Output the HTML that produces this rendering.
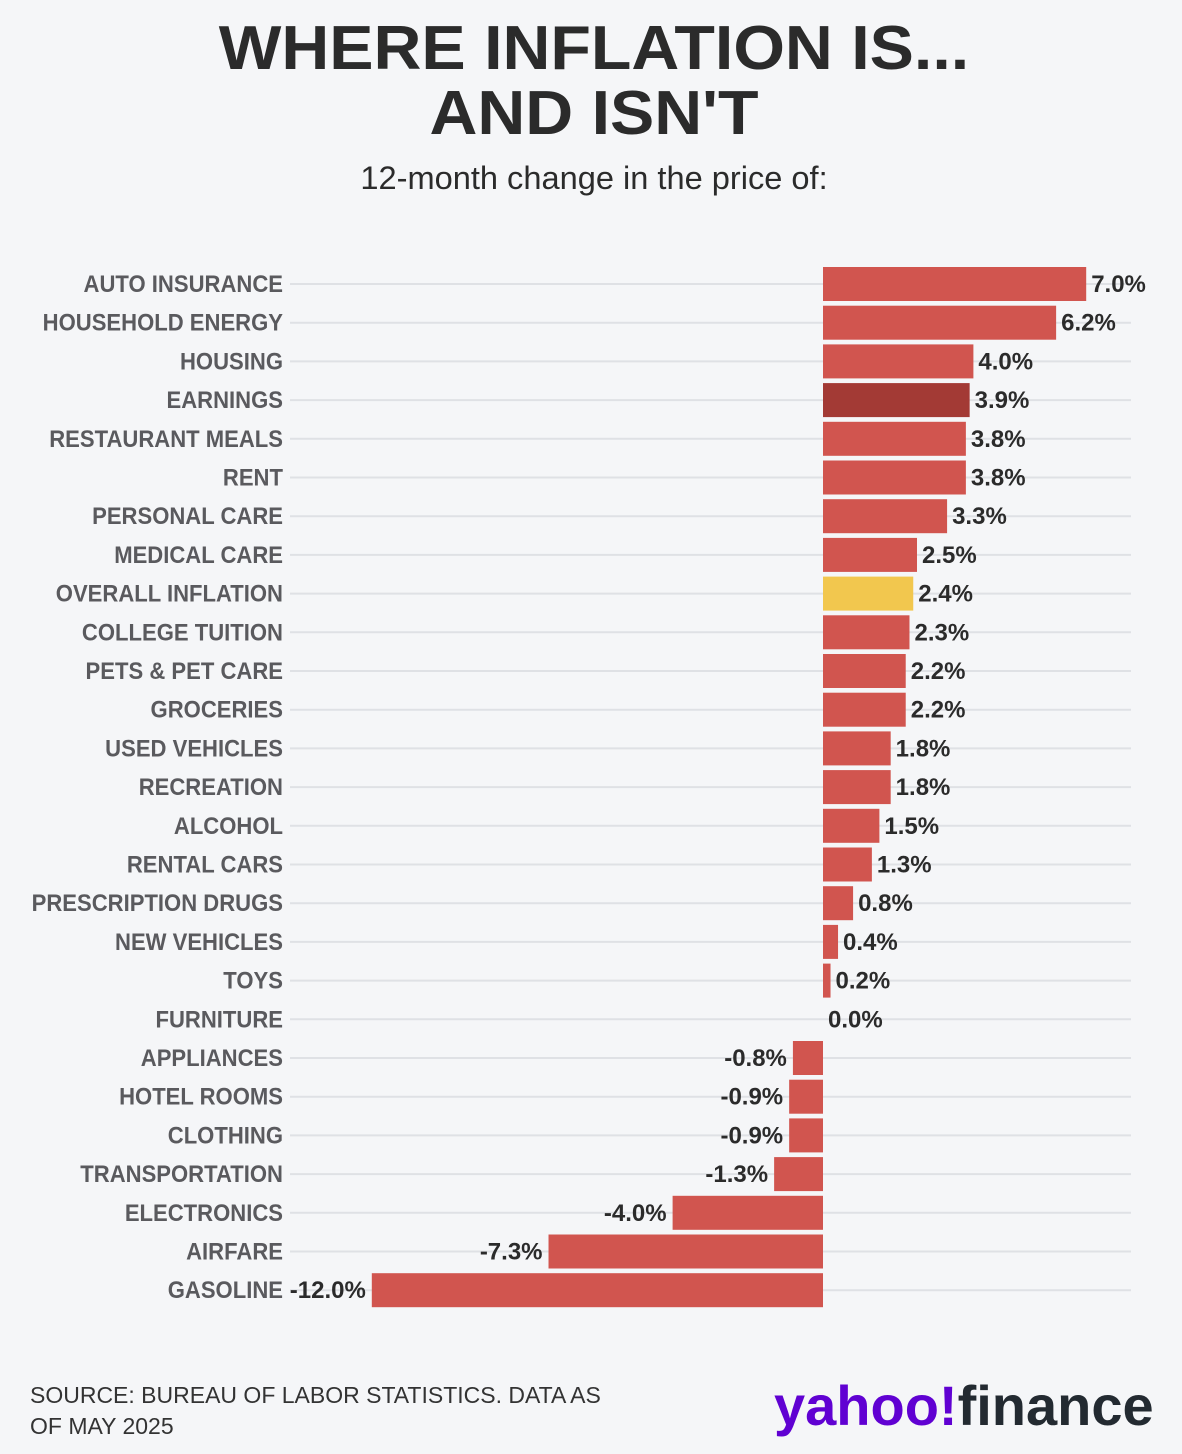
<!DOCTYPE html>
<html><head><meta charset="utf-8"><style>
body{margin:0;background:#f5f6f8;}
svg{display:block;font-family:"Liberation Sans",sans-serif;}
</style></head><body>
<svg width="1182" height="1454" viewBox="0 0 1182 1454">
<rect width="1182" height="1454" fill="#f5f6f8"/>
<text x="594" y="69" text-anchor="middle" font-size="62" font-weight="bold" fill="#2b2b2b" transform="translate(594 0) scale(1.07 1) translate(-594 0)">WHERE INFLATION IS...</text>
<text x="594" y="134" text-anchor="middle" font-size="62" font-weight="bold" fill="#2b2b2b" transform="translate(594 0) scale(1.07 1) translate(-594 0)">AND ISN'T</text>
<text x="594" y="189" text-anchor="middle" font-size="32.6" fill="#2b2b2b">12-month change in the price of:</text>
<g id="grid"></g>
<g id="bars"></g>
<g id="labels"></g>
<text x="30" y="1403" font-size="23" fill="#333">SOURCE: BUREAU OF LABOR STATISTICS. DATA AS</text>
<text x="30" y="1434" font-size="23" fill="#333">OF MAY 2025</text>
<text x="774" y="1425" font-size="56" font-weight="bold" fill="#6001d2" letter-spacing="0">yahoo!<tspan fill="#232a31">finance</tspan></text>
</svg>
<script>
const categories=["AUTO INSURANCE","HOUSEHOLD ENERGY","HOUSING","EARNINGS","RESTAURANT MEALS","RENT","PERSONAL CARE","MEDICAL CARE","OVERALL INFLATION","COLLEGE TUITION","PETS & PET CARE","GROCERIES","USED VEHICLES","RECREATION","ALCOHOL","RENTAL CARS","PRESCRIPTION DRUGS","NEW VEHICLES","TOYS","FURNITURE","APPLIANCES","HOTEL ROOMS","CLOTHING","TRANSPORTATION","ELECTRONICS","AIRFARE","GASOLINE"];
const values=[7.0,6.2,4.0,3.9,3.8,3.8,3.3,2.5,2.4,2.3,2.2,2.2,1.8,1.8,1.5,1.3,0.8,0.4,0.2,0.0,-0.8,-0.9,-0.9,-1.3,-4.0,-7.3,-12.0];
const valueLabels=["7.0%","6.2%","4.0%","3.9%","3.8%","3.8%","3.3%","2.5%","2.4%","2.3%","2.2%","2.2%","1.8%","1.8%","1.5%","1.3%","0.8%","0.4%","0.2%","0.0%","-0.8%","-0.9%","-0.9%","-1.3%","-4.0%","-7.3%","-12.0%"];
const NS="http://www.w3.org/2000/svg";
const x0=823, pxPer=37.6, y0=267, pitch=38.7, bh=34;
const xs=v=>x0+v*pxPer;
const ys=i=>y0+i*pitch;
const grid=document.getElementById('grid'),bars=document.getElementById('bars'),labels=document.getElementById('labels');
const sx=0.92, vsx=1.0;
categories.forEach((c,i)=>{
  const v=values[i],y=ys(i),cy=y+bh/2;
  const ln=document.createElementNS(NS,'line');
  ln.setAttribute('x1',290);ln.setAttribute('x2',1131);ln.setAttribute('y1',cy);ln.setAttribute('y2',cy);
  ln.setAttribute('stroke','#dfe1e5');ln.setAttribute('stroke-width','2');
  
  
  grid.appendChild(ln);
  let fill='#d1554f';
  if(c==='EARNINGS')fill='#a33a35';
  if(c==='OVERALL INFLATION')fill='#f2c74e';
  const r=document.createElementNS(NS,'rect');
  r.setAttribute('x',Math.min(xs(v),x0));r.setAttribute('y',y);
  r.setAttribute('width',Math.abs(xs(v)-x0));r.setAttribute('height',bh);r.setAttribute('fill',fill);
  
  
  bars.appendChild(r);
  const t=document.createElementNS(NS,'text');
  t.textContent=c;
  t.setAttribute('x',283/sx);t.setAttribute('y',cy+8);t.setAttribute('text-anchor','end');
  t.setAttribute('transform',`scale(${sx} 1)`);
  t.setAttribute('font-size','24');t.setAttribute('font-weight','bold');t.setAttribute('fill','#5a5a5e');
  
  
  labels.appendChild(t);
  const vt=document.createElementNS(NS,'text');
  vt.textContent=valueLabels[i];
  const vx=v>=0?xs(v)+5:xs(v)-6;
  vt.setAttribute('x',vx/vsx);vt.setAttribute('y',cy+8);
  vt.setAttribute('text-anchor',v>=0?'start':'end');
  vt.setAttribute('transform',`scale(${vsx} 1)`);
  vt.setAttribute('font-size','24');vt.setAttribute('font-weight','bold');vt.setAttribute('fill','#2b2b2b');
  
  
  labels.appendChild(vt);
});
</script>
</body></html>
